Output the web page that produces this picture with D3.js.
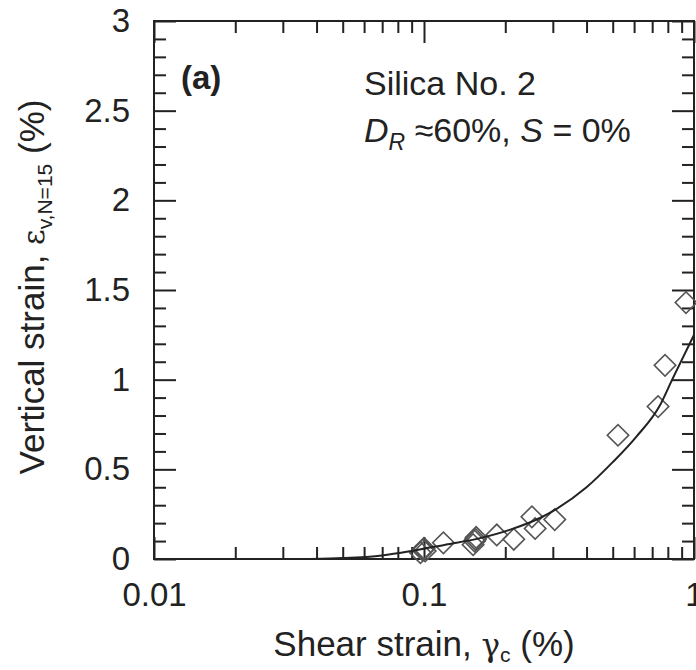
<!DOCTYPE html>
<html>
<head>
<meta charset="utf-8">
<script src="https://cdn.jsdelivr.net/npm/d3@7"></script>
<style>
  body { margin: 0; background: #fff; }
  svg { font-family: "Liberation Sans", Arial, sans-serif; }
  .axis text { font-size: 33px; fill: #222; }
  .axis path { display: none; }
  .axis line { stroke: #222; stroke-width: 2; }
</style>
</head>
<body>
<div id="chart"></div>
<script>
// measured points: cyclic shear strain (%) vs vertical strain after 15 cycles (%)
const gammaPts = [0.097, 0.099, 0.1, 0.101, 0.118, 0.152, 0.154, 0.156, 0.155, 0.186, 0.215, 0.251, 0.258, 0.305, 0.523, 0.736, 0.781, 0.934];
const epsPts   = [0.035, 0.05, 0.06, 0.045, 0.09, 0.08, 0.10, 0.12, 0.11, 0.134, 0.11, 0.235, 0.17, 0.22, 0.69, 0.85, 1.08, 1.43];

// fitted curve
const curveGamma = [0.038, 0.05, 0.07, 0.09, 0.12, 0.16, 0.21, 0.27, 0.31, 0.40, 0.50, 0.61, 0.75, 0.83, 1.0];
const curveEps   = [0.0, 0.005, 0.02, 0.045, 0.08, 0.115, 0.165, 0.23, 0.28, 0.40, 0.54, 0.68, 0.86, 1.0, 1.25];

const xMajorTicks = [0.01, 0.1, 1];
const xTickLabels = ['0.01', '0.1', '1'];
const yMajorTicks = [0, 0.5, 1, 1.5, 2, 2.5, 3];
const yTickLabels = ['0', '0.5', '1', '1.5', '2', '2.5', '3'];

const W = 696, H = 670;
const LEFT = 154, RIGHT = 694, TOP = 21, BOTTOM = 559;

const xMinorTicks = [];
[0.01, 0.1].forEach(d => { for (let k = 2; k <= 9; k++) xMinorTicks.push(+(d * k).toFixed(3)); });
const yMinorTicks = d3.range(0, 31).map(i => i / 10).filter(v => Math.abs(v * 2 - Math.round(v * 2)) > 1e-6);

const xScale = d3.scaleLog().domain([0.01, 1]).range([LEFT, RIGHT]);
const yScale = d3.scaleLinear().domain([0, 3]).range([BOTTOM, TOP]);

const svg = d3.select('#chart').append('svg')
  .attr('width', W).attr('height', H);

const fmtX = d => xTickLabels[xMajorTicks.indexOf(d)];
const fmtY = d => yTickLabels[yMajorTicks.indexOf(d)];

// bottom axis (ticks pointing inward)
svg.append('g').attr('class', 'axis')
  .attr('transform', `translate(0,${BOTTOM})`)
  .call(d3.axisBottom(xScale).tickValues(xMajorTicks).tickFormat(fmtX).tickSize(-22).tickPadding(24));
svg.append('g').attr('class', 'axis')
  .attr('transform', `translate(0,${BOTTOM})`)
  .call(d3.axisBottom(xScale).tickValues(xMinorTicks).tickFormat('').tickSize(-12));
// top axis
svg.append('g').attr('class', 'axis')
  .attr('transform', `translate(0,${TOP})`)
  .call(d3.axisTop(xScale).tickValues(xMajorTicks).tickFormat('').tickSize(-22));
svg.append('g').attr('class', 'axis')
  .attr('transform', `translate(0,${TOP})`)
  .call(d3.axisTop(xScale).tickValues(xMinorTicks).tickFormat('').tickSize(-12));
// left axis
svg.append('g').attr('class', 'axis')
  .attr('transform', `translate(${LEFT},0)`)
  .call(d3.axisLeft(yScale).tickValues(yMajorTicks).tickFormat(fmtY).tickSize(-22).tickPadding(24));
svg.append('g').attr('class', 'axis')
  .attr('transform', `translate(${LEFT},0)`)
  .call(d3.axisLeft(yScale).tickValues(yMinorTicks).tickFormat('').tickSize(-12));
// right axis
svg.append('g').attr('class', 'axis')
  .attr('transform', `translate(${RIGHT},0)`)
  .call(d3.axisRight(yScale).tickValues(yMajorTicks).tickFormat('').tickSize(-22));
svg.append('g').attr('class', 'axis')
  .attr('transform', `translate(${RIGHT},0)`)
  .call(d3.axisRight(yScale).tickValues(yMinorTicks).tickFormat('').tickSize(-12));

// frame
svg.append('rect')
  .attr('x', LEFT).attr('y', TOP)
  .attr('width', RIGHT - LEFT).attr('height', BOTTOM - TOP)
  .attr('fill', 'none').attr('stroke', '#222').attr('stroke-width', 2);

// diamonds
const diamond = d3.symbol().type(d3.symbolSquare).size(230);
svg.append('g').selectAll('path')
  .data(gammaPts.map((g, i) => [g, epsPts[i]]))
  .enter().append('path')
  .attr('d', diamond)
  .attr('transform', d => `translate(${xScale(d[0])},${yScale(d[1])}) rotate(45)`)
  .attr('fill', 'none')
  .attr('stroke', '#555')
  .attr('stroke-width', 1.6);

// fitted curve
const line = d3.line()
  .x(d => xScale(d[0]))
  .y(d => yScale(d[1]))
  .curve(d3.curveMonotoneX);
svg.append('path')
  .datum(curveGamma.map((g, i) => [g, curveEps[i]]))
  .attr('d', line)
  .attr('fill', 'none')
  .attr('stroke', '#222')
  .attr('stroke-width', 2);

// annotations
svg.append('text')
  .attr('x', 181).attr('y', 89)
  .attr('font-size', 33).attr('font-weight', 'bold').attr('fill', '#222')
  .text('(a)');

svg.append('text')
  .attr('x', 364).attr('y', 95)
  .attr('font-size', 34).attr('fill', '#222')
  .text('Silica No. 2');

const t2 = svg.append('text')
  .attr('x', 364).attr('y', 142)
  .attr('font-size', 34).attr('fill', '#222');
t2.append('tspan').attr('font-style', 'italic').text('D');
t2.append('tspan').attr('font-style', 'italic').attr('font-size', 23).attr('dy', 8).text('R');
t2.append('tspan').attr('dy', -8).text(' \u224860%, ');
t2.append('tspan').attr('font-style', 'italic').text('S');
t2.append('tspan').text(' = 0%');

// x title
const xt = svg.append('text')
  .attr('x', 424).attr('y', 656)
  .attr('text-anchor', 'middle')
  .attr('font-size', 35).attr('fill', '#222');
xt.append('tspan').text('Shear strain, ');
xt.append('tspan').attr('font-family', '"DejaVu Serif", serif').attr('font-size', 31).text('\u03b3');
xt.append('tspan').attr('font-size', 21).attr('dy', 6).text('c');
xt.append('tspan').attr('dy', -6).text(' (%)');

// y title
const yt = svg.append('text')
  .attr('transform', `translate(44,${287}) rotate(-90)`)
  .attr('text-anchor', 'middle')
  .attr('font-size', 35).attr('fill', '#222');
yt.append('tspan').text('Vertical strain, ');
yt.append('tspan').attr('font-family', '"DejaVu Serif", serif').attr('font-size', 30).text('\u03b5');
yt.append('tspan').attr('font-size', 21).attr('dy', 8).text('v,N=15');
yt.append('tspan').attr('dy', -8).text(' (%)');
</script>
</body>
</html>
